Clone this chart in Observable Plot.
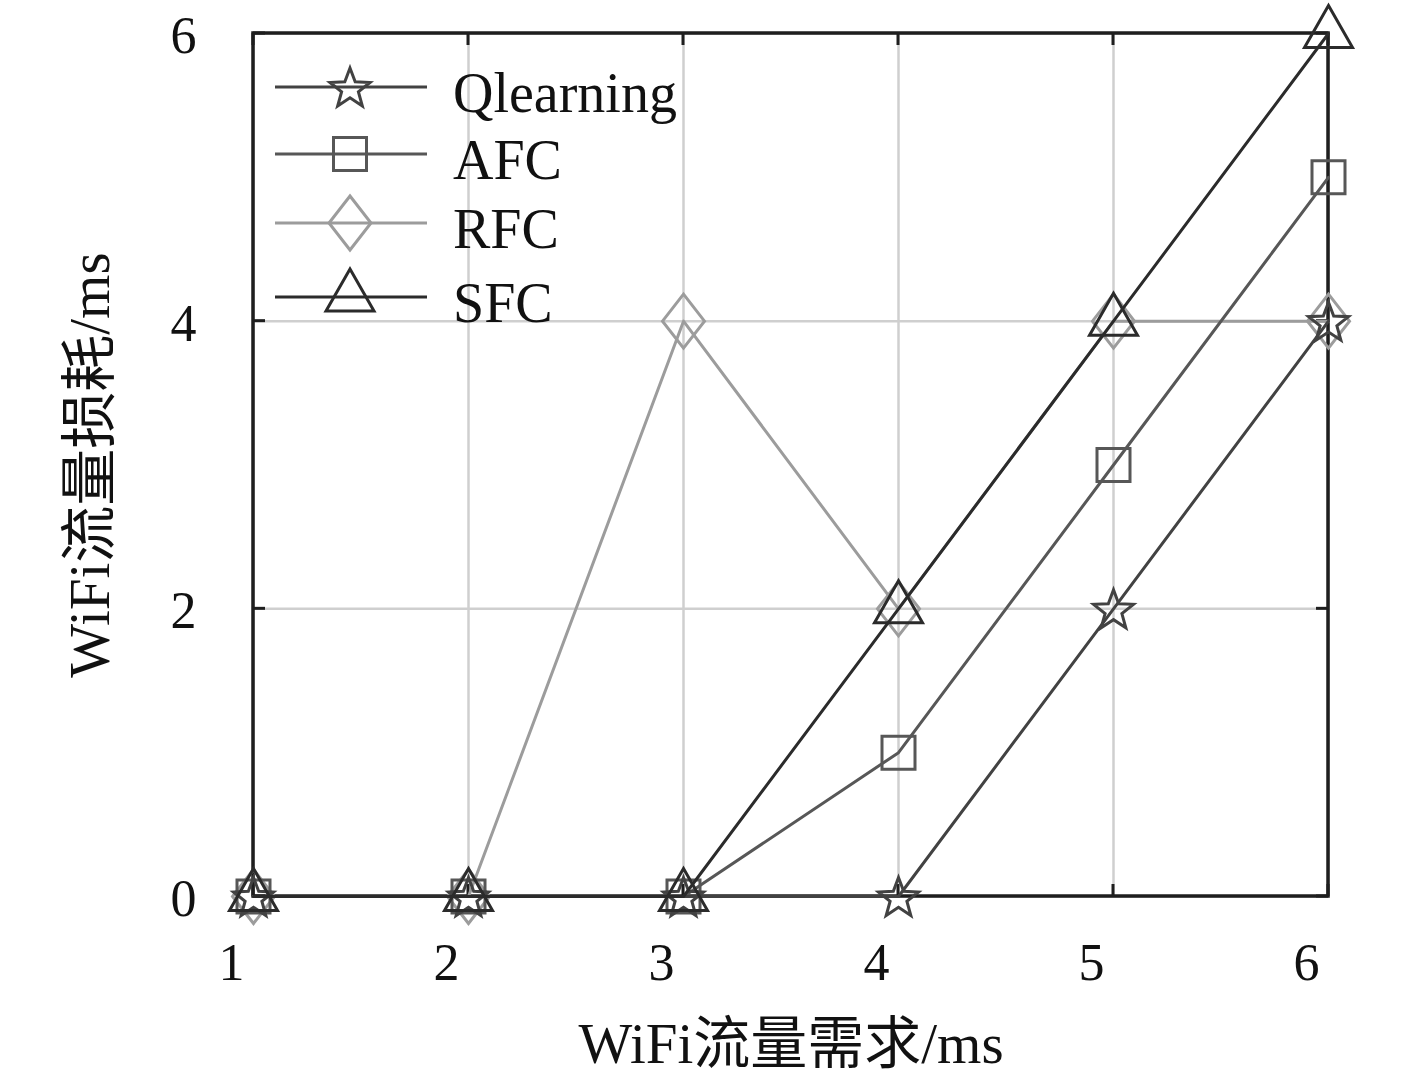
<!DOCTYPE html>
<html><head><meta charset="utf-8">
<script src="https://cdn.jsdelivr.net/npm/d3@7"></script>
<script src="https://cdn.jsdelivr.net/npm/@observablehq/plot@0.6"></script>
<style>body{margin:0;background:#fff} #chart{width:1417px;height:1084px}</style>
</head><body><div id="chart"></div>
<script>
// ---- data ----
const demand = [1, 2, 3, 4, 5, 6];
const qlearning = [0, 0, 0, 0, 2, 4];
const afc = [0, 0, 0, 1, 3, 5];
const rfc = [0, 0, 4, 2, 4, 4];
const sfc = [0, 0, 0, 2, 4, 6];
const seriesNames = ["Qlearning", "AFC", "RFC", "SFC"];
const xTicks = [1, 2, 3, 4, 5, 6];
const yTicks = [0, 2, 4, 6];
const xTitle = "WiFi流量需求/ms";
const yTitle = "WiFi流量损耗/ms";

const FONT = "'Liberation Serif', 'Times New Roman', 'Noto Sans CJK SC', serif";
const R0 = 24;
function mk(fn) { return { draw(ctx, size) { const k = Math.sqrt(size / Math.PI) / R0; fn(ctx, k); } }; }
const symStar = mk((c, k) => {
  const Ro = 21 * k, Ri = Ro * 0.42;
  for (let i = 0; i < 10; i++) {
    const a = -Math.PI / 2 + i * Math.PI / 5, r = i % 2 ? Ri : Ro;
    const px = r * Math.cos(a), py = r * Math.sin(a) + 2 * k;
    i ? c.lineTo(px, py) : c.moveTo(px, py);
  }
  c.closePath();
});
const symSquare = mk((c, k) => { const h = 16.5 * k; c.moveTo(-h, -h); c.lineTo(h, -h); c.lineTo(h, h); c.lineTo(-h, h); c.closePath(); });
const symDiamond = mk((c, k) => { const w = 21 * k, h = 27 * k; c.moveTo(0, -h); c.lineTo(w, 0); c.lineTo(0, h); c.lineTo(-w, 0); c.closePath(); });
const symTriangle = mk((c, k) => { c.moveTo(0, -28 * k); c.lineTo(24 * k, 14 * k); c.lineTo(-24 * k, 14 * k); c.closePath(); });

const seriesValues = [qlearning, afc, rfc, sfc];
const styles = {
  Qlearning: { stroke: "#424242", symbol: symStar },
  AFC: { stroke: "#575757", symbol: symSquare },
  RFC: { stroke: "#9c9c9c", symbol: symDiamond },
  SFC: { stroke: "#2b2b2b", symbol: symTriangle }
};
const rows = [];
seriesNames.forEach((s, j) => demand.forEach((d, i) => rows.push({ series: s, x: d, y: seriesValues[j][i] })));
const drawOrder = ["RFC", "AFC", "Qlearning", "SFC"];

function frameTicks(index, scales, values, dims) {
  const { x, y } = scales;
  const L = dims.marginLeft, R = dims.width - dims.marginRight, T = dims.marginTop, B = dims.height - dims.marginBottom;
  const g = d3.create("svg:g").attr("stroke", "#1e1e1e").attr("fill", "none");
  const t = 12;
  xTicks.forEach(v => {
    const px = x(v);
    g.append("line").attr("x1", px).attr("x2", px).attr("y1", B).attr("y2", B - t).attr("stroke-width", 3);
    g.append("line").attr("x1", px).attr("x2", px).attr("y1", T).attr("y2", T + t).attr("stroke-width", 3);
  });
  yTicks.forEach(v => {
    const py = y(v);
    g.append("line").attr("y1", py).attr("y2", py).attr("x1", L).attr("x2", L + t).attr("stroke-width", 3);
    g.append("line").attr("y1", py).attr("y2", py).attr("x1", R).attr("x2", R - t).attr("stroke-width", 3);
  });
  g.append("rect").attr("x", L).attr("y", T).attr("width", R - L).attr("height", B - T).attr("stroke-width", 3.5);
  return g.node();
}

function legend(index, scales, values, dims) {
  const L = dims.marginLeft;
  const g = d3.create("svg:g");
  const rowsY = [87, 154, 223, 297];
  seriesNames.forEach((s, i) => {
    const yy = rowsY[i], st = styles[s];
    g.append("line").attr("x1", L + 22).attr("x2", L + 174).attr("y1", yy).attr("y2", yy)
      .attr("stroke", st.stroke).attr("stroke-width", 3);
    const p = d3.path(); st.symbol.draw(p, R0 * R0 * Math.PI);
    g.append("path").attr("d", p.toString()).attr("transform", `translate(${L + 97},${yy})`)
      .attr("fill", "none").attr("stroke", st.stroke).attr("stroke-width", 3);
    g.append("text").attr("x", L + 200).attr("y", yy + 25).attr("fill", "#111")
      .attr("text-anchor", "start")
      .attr("font-family", FONT).attr("font-size", 56).text(s);
  });
  return g.node();
}

const marks = [
  Plot.gridX(xTicks, { stroke: "#cfcfcf", strokeOpacity: 1, strokeWidth: 2.5 }),
  Plot.gridY(yTicks, { stroke: "#cfcfcf", strokeOpacity: 1, strokeWidth: 2.5 }),
  frameTicks,
  Plot.axisX(xTicks, { tickSize: 0, tickPadding: 47, dx: -22, fontSize: 52, fill: "#111", tickFormat: d => String(d) }),
  Plot.axisY(yTicks, { tickSize: 0, tickPadding: 57, fontSize: 52, fill: "#111", dy: 3, tickFormat: d => String(d) }),
  Plot.text([xTitle], { frameAnchor: "bottom", lineAnchor: "middle", textAnchor: "middle", dy: 148, fontSize: 57, fill: "#111" }),
  Plot.text([yTitle], { frameAnchor: "left", lineAnchor: "middle", textAnchor: "middle", dx: -163, rotate: -90, fontSize: 57, fill: "#111" })
];
drawOrder.forEach(s => {
  const data = rows.filter(r => r.series === s), st = styles[s];
  marks.push(Plot.line(data, { x: "x", y: "y", stroke: st.stroke, strokeWidth: 3 }));
  marks.push(Plot.dot(data, { x: "x", y: "y", r: R0, symbol: st.symbol, stroke: st.stroke, strokeWidth: 3, fill: "none" }));
});
marks.push(legend);

const chart = Plot.plot({
  width: 1417, height: 1084,
  marginLeft: 253, marginRight: 89, marginTop: 33, marginBottom: 188,
  style: { fontFamily: FONT, background: "#fff", overflow: "visible" },
  x: { domain: [1, 6], label: null, axis: null },
  y: { domain: [0, 6], label: null, axis: null },
  marks
});
document.getElementById("chart").appendChild(chart);
</script>
</body></html>
